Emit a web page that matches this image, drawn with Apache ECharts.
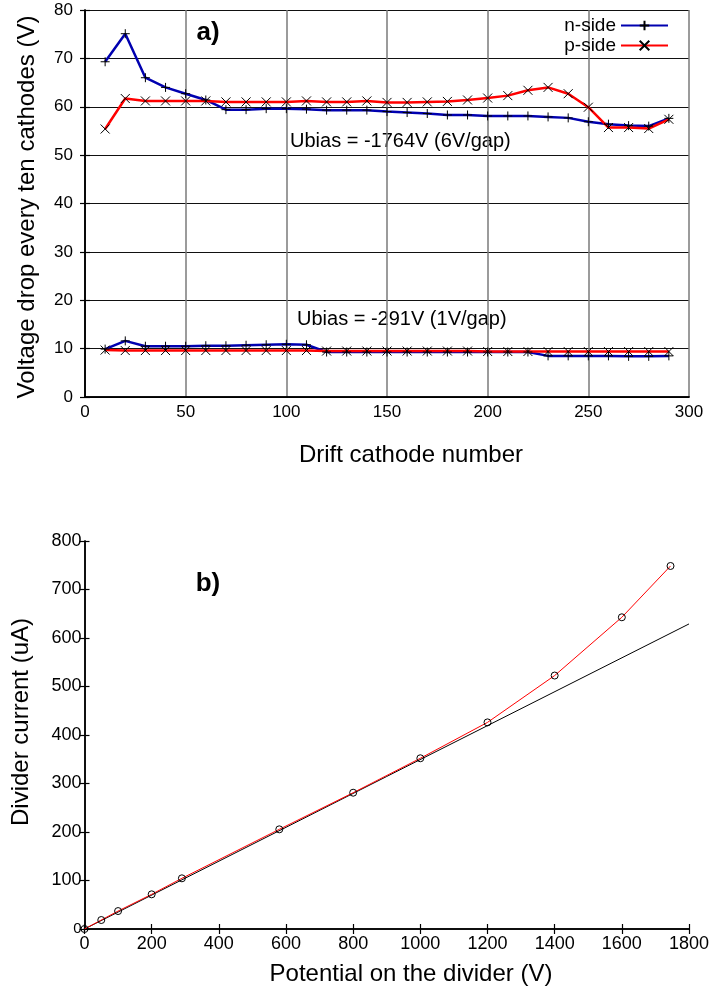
<!DOCTYPE html>
<html>
<head>
<meta charset="utf-8">
<script src="https://cdn.jsdelivr.net/npm/echarts@6/dist/echarts.min.js"></script>
<style>
html,body{margin:0;padding:0;background:#fff;}
#c{width:716px;height:994px;}
</style>
</head>
<body>
<div id="c"></div>
<script>
// ---- Data: panel a) ----
const cathodes = [10,20,30,40,50,60,70,80,90,100,110,120,130,140,150,160,170,180,190,200,210,220,230,240,250,260,270,280,290];
const nSideHigh = [69.3,75.1,66.0,64.0,62.7,61.4,59.4,59.4,59.6,59.6,59.5,59.3,59.3,59.3,59.0,58.8,58.6,58.3,58.3,58.1,58.1,58.1,57.9,57.7,56.9,56.4,56.1,56.0,57.6];
const pSideHigh = [55.4,61.7,61.2,61.2,61.2,61.2,61.0,61.0,61.0,61.0,61.2,61.0,61.0,61.2,60.9,60.9,61.0,61.1,61.4,61.8,62.3,63.4,64.0,62.7,59.9,55.7,55.7,55.5,57.4];
const nSideLow = [9.9,11.6,10.5,10.5,10.5,10.6,10.6,10.7,10.8,10.9,10.8,9.3,9.3,9.3,9.3,9.3,9.3,9.3,9.3,9.3,9.3,9.3,8.5,8.5,8.5,8.5,8.4,8.4,8.5];
const pSideLow = [9.7,9.6,9.6,9.6,9.6,9.6,9.6,9.6,9.6,9.6,9.6,9.5,9.5,9.5,9.5,9.5,9.5,9.5,9.5,9.4,9.4,9.4,9.4,9.4,9.4,9.4,9.4,9.4,9.4];
// ---- Data: panel b) ----
const potential = [0,50,100,200,290,580,800,1000,1200,1400,1600,1745];
const current = [0,18.5,37,71.5,104.5,205.5,281,352,426,522.6,642.7,748.5];
const fitPotential = [0,1800];
const fitCurrent = [0,629];

const FONT = 'Liberation Sans, Arial, Helvetica, sans-serif';
const zip = (xs, ys) => xs.map((x, i) => [x, ys[i]]);

const PLUS = 'path://M0,5L10,5M5,0L5,10';
const CROSS = 'path://M0,0L10,10M10,0L0,10';
const BLUE = '#0000b0';
const RED = '#ff0000';

const axisLine = {show: true, lineStyle: {color: '#000', width: 1.5}};
const tickIn = {show: true, inside: true, length: 5, lineStyle: {color: '#000', width: 1.2}};

const chart = echarts.init(document.getElementById('c'), null, {renderer: 'canvas'});

function lineSeries(name, data, color, symbol) {
  return {
    name, type: 'line', xAxisIndex: 0, yAxisIndex: 0,
    data, symbol, symbolSize: 9,
    lineStyle: {color, width: 2.5},
    itemStyle: {color, borderColor: '#000', borderWidth: 1},
    emphasis: {disabled: true}, animation: false
  };
}

const option = {
  animation: false,
  textStyle: {fontFamily: FONT},
  grid: [
    {left: 85, right: 27, top: 10, height: 387, show: false},
    {left: 84.5, right: 27, top: 541, height: 388, show: false}
  ],
  legend: {
    data: ['n-side', 'p-side'],
    orient: 'vertical',
    right: 42, top: 11,
    align: 'right',
    itemWidth: 47, itemHeight: 12, itemGap: 1,
    textStyle: {fontSize: 19, fontFamily: FONT, color: '#000'},
    selectedMode: false
  },
  xAxis: [
    {gridIndex: 0, type: 'value', min: 0, max: 300, interval: 50, position: 'bottom',
     axisLine, axisTick: {show: false},
     axisLabel: {fontSize: 17, color: '#000', margin: 7, fontFamily: FONT},
     splitLine: {show: true, lineStyle: {color: '#7a7a7a', width: 1.5}}},
    {gridIndex: 0, type: 'value', min: 0, max: 300, interval: 50, position: 'top',
     axisLine, axisTick: {show: false}, axisLabel: {show: false}, splitLine: {show: false}},
    {gridIndex: 1, type: 'value', min: 0, max: 1800, interval: 200, position: 'bottom',
     axisLine, axisTick: tickIn,
     axisLabel: {fontSize: 18, color: '#000', margin: 6, fontFamily: FONT, formatter: v => String(v)},
     splitLine: {show: false}},
    {gridIndex: 1, type: 'value', min: 0, max: 1800, interval: 200, position: 'top',
     axisLine, axisTick: tickIn, axisLabel: {show: false}, splitLine: {show: false}}
  ],
  yAxis: [
    {gridIndex: 0, type: 'value', min: 0, max: 80, interval: 10, position: 'left',
     axisLine, axisTick: tickIn,
     axisLabel: {fontSize: 17, color: '#000', margin: 12, fontFamily: FONT, padding: [8, 0, 0, 0]},
     splitLine: {show: true, lineStyle: {color: '#111', width: 1}}},
    {gridIndex: 0, type: 'value', min: 0, max: 80, interval: 10, position: 'right',
     axisLine, axisTick: tickIn, axisLabel: {show: false}, splitLine: {show: false}},
    {gridIndex: 1, type: 'value', min: 0, max: 800, interval: 100, position: 'left',
     axisLine, axisTick: tickIn,
     axisLabel: {fontSize: 18, color: '#000', margin: 3, fontFamily: FONT,
       formatter: v => v === 0 ? '{s|0}' : String(v),
       rich: {s: {fontSize: 15, fontFamily: FONT, color: '#000'}}},
     splitLine: {show: false}},
    {gridIndex: 1, type: 'value', min: 0, max: 800, interval: 100, position: 'right',
     axisLine, axisTick: tickIn, axisLabel: {show: false}, splitLine: {show: false}}
  ],
  series: [
    lineSeries('n-side', zip(cathodes, nSideHigh), BLUE, PLUS),
    lineSeries('p-side', zip(cathodes, pSideHigh), RED, CROSS),
    lineSeries('n-side', zip(cathodes, nSideLow), BLUE, PLUS),
    lineSeries('p-side', zip(cathodes, pSideLow), RED, CROSS),
    {name: 'fit', type: 'line', xAxisIndex: 2, yAxisIndex: 2,
     data: zip(fitPotential, fitCurrent), symbol: 'none',
     lineStyle: {color: '#000', width: 1}, emphasis: {disabled: true}},
    {name: 'measured', type: 'line', xAxisIndex: 2, yAxisIndex: 2,
     data: zip(potential, current), symbol: 'circle', symbolSize: 7,
     lineStyle: {color: RED, width: 1},
     itemStyle: {color: 'rgba(255,255,255,0)', borderColor: '#000', borderWidth: 1},
     emphasis: {disabled: true}}
  ],
  graphic: [
    {type: 'text', x: 27, y: 207, rotation: Math.PI / 2,
     style: {text: 'Voltage drop every ten cathodes (V)', fontSize: 24, fontFamily: FONT, fill: '#000', align: 'center', verticalAlign: 'middle'}},
    {type: 'text', x: 411, y: 455,
     style: {text: 'Drift cathode number', fontSize: 24, fontFamily: FONT, fill: '#000', align: 'center', verticalAlign: 'middle'}},
    {type: 'text', x: 21, y: 722, rotation: Math.PI / 2,
     style: {text: 'Divider current (uA)', fontSize: 24, fontFamily: FONT, fill: '#000', align: 'center', verticalAlign: 'middle'}},
    {type: 'text', x: 411, y: 974,
     style: {text: 'Potential on the divider (V)', fontSize: 24, fontFamily: FONT, fill: '#000', align: 'center', verticalAlign: 'middle'}},
    {type: 'text', x: 208, y: 33,
     style: {text: 'a)', fontSize: 26, fontWeight: 'bold', fontFamily: FONT, fill: '#000', align: 'center', verticalAlign: 'middle'}},
    {type: 'text', x: 208, y: 584,
     style: {text: 'b)', fontSize: 26, fontWeight: 'bold', fontFamily: FONT, fill: '#000', align: 'center', verticalAlign: 'middle'}},
    {type: 'text', x: 290, y: 141,
     style: {text: 'Ubias = -1764V (6V/gap)', fontSize: 20, fontFamily: FONT, fill: '#000', align: 'left', verticalAlign: 'middle'}},
    {type: 'text', x: 297, y: 319,
     style: {text: 'Ubias = -291V (1V/gap)', fontSize: 20, fontFamily: FONT, fill: '#000', align: 'left', verticalAlign: 'middle'}}
  ]
};
chart.setOption(option);
</script>
</body>
</html>
